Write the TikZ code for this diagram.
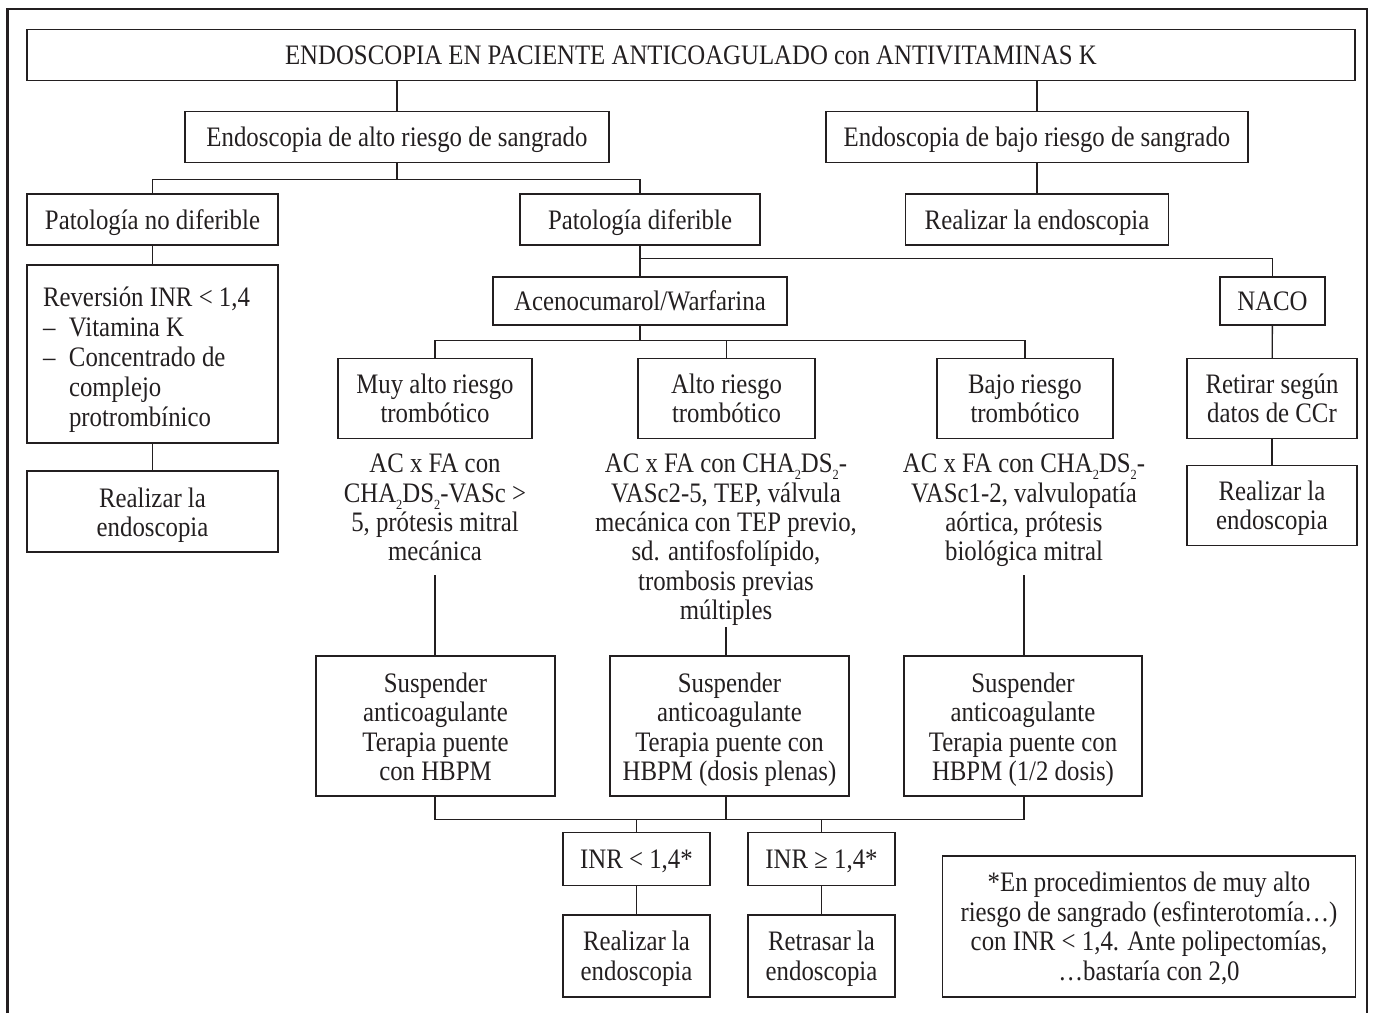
\documentclass[tikz,border=0pt]{standalone}
\usepackage{fontspec}
\setmainfont{Liberation Serif}[FakeStretch=0.88]
\newcommand{\sub}[1]{\raisebox{-0.55ex}[0pt][0pt]{\fontsize{14}{14}\selectfont #1}}
% stacked lines, lowered by #1 while keeping their measured extent
\newcommand{\ml}[3]{\raisebox{#1}[\height][\depth]{\begin{tabular}{@{}#2@{}}#3\end{tabular}}}
\definecolor{ink}{HTML}{231F20}
\begin{document}
\begin{tikzpicture}[x=1pt,y=-1pt,
  every node/.style={text=ink,font=\fontsize{28.2}{29.4}\selectfont},
  box/.style={draw=ink,line width=1.3pt,inner sep=0pt,align=center},
  one/.style={execute at begin node={\rule{0pt}{27pt}},
              execute at end node={\rule[-8pt]{0pt}{8pt}}},
  plain/.style={inner sep=0pt,align=center,anchor=north},
  link/.style={draw=ink,line width=1.3pt}]
\useasboundingbox (0,0) rectangle (1375,1013);
% outer frame, open at the bottom
\draw[ink,line width=2.8pt] (7.5,1013) -- (7.5,9) -- (1367,9) -- (1367,1013);

% boxes: centre, width, height
\node[box,one,minimum width=1328,minimum height=51] (top) at (691,55) {ENDOSCOPIA EN PACIENTE ANTICOAGULADO con ANTIVITAMINAS K};
\node[box,one,minimum width=424,minimum height=51] (alto) at (397,137) {Endoscopia de alto riesgo de sangrado};
\node[box,one,minimum width=422,minimum height=51] (bajo) at (1037,137) {Endoscopia de bajo riesgo de sangrado};
\node[box,one,minimum width=251,minimum height=51] (nodif) at (152.5,219.5) {Patología no diferible};
\node[box,one,minimum width=240,minimum height=51] (dif) at (640,219.5) {Patología diferible};
\node[box,one,minimum width=263,minimum height=51] (realb) at (1037,219.5) {Realizar la endoscopia};
\node[box,minimum width=251,minimum height=178,font=\fontsize{28.2}{29.8}\selectfont] (rev) at (152.5,354)
  {\kern-12pt\ml{-6.5pt}{l}{Reversión INR < 1,4\\
   \makebox[26pt][l]{–}Vitamina K\\
   \makebox[26pt][l]{–}Concentrado de\\
   \hspace*{26pt}complejo\\
   \hspace*{26pt}protrombínico}};
\node[box,minimum width=251,minimum height=81] (reall) at (152.5,511.5) {\ml{-4.5pt}{c}{Realizar la\\endoscopia}};
\node[box,one,minimum width=294,minimum height=48] (aceno) at (640,301) {Acenocumarol/Warfarina};
\node[box,one,minimum width=105,minimum height=48] (naco) at (1272.5,301) {NACO};
\node[box,minimum width=194,minimum height=80] (muy) at (435,398.5) {\ml{-3.6pt}{c}{Muy alto riesgo\\trombótico}};
\node[box,minimum width=177,minimum height=80] (altot) at (726.5,398.5) {\ml{-3.6pt}{c}{Alto riesgo\\trombótico}};
\node[box,minimum width=176,minimum height=80] (bajot) at (1025,398.5) {\ml{-3.6pt}{c}{Bajo riesgo\\trombótico}};
\node[box,minimum width=170,minimum height=80] (retirar) at (1272,398.5) {\ml{-3.6pt}{c}{Retirar según\\datos de CCr}};
\node[box,minimum width=170,minimum height=80] (realn) at (1272,505.5) {\ml{-3.6pt}{c}{Realizar la\\endoscopia}};

% indications under each risk level
\node[plain] (t1) at (435,452) {\ml{0pt}{c}{AC x FA con\\CHA\sub{2}DS\sub{2}-VASc >\\5, prótesis mitral\\mecánica}};
\node[plain] (t2) at (726,452) {\ml{0pt}{c}{AC x FA con CHA\sub{2}DS\sub{2}-\\VASc2-5, TEP, válvula\\mecánica con TEP previo,\\sd. antifosfolípido,\\trombosis previas\\múltiples}};
\node[plain] (t3) at (1024,452) {\ml{0pt}{c}{AC x FA con CHA\sub{2}DS\sub{2}-\\VASc1-2, valvulopatía\\aórtica, prótesis\\biológica mitral}};
\coordinate (t1b) at (435,575);
\coordinate (t2b) at (726,627);
\coordinate (t3b) at (1024,575);

\node[box,minimum width=239,minimum height=140] (s1) at (435.5,726) {\ml{-4.5pt}{c}{Suspender\\anticoagulante\\Terapia puente\\con HBPM}};
\node[box,minimum width=239,minimum height=140] (s2) at (729.5,726) {\ml{-4.5pt}{c}{Suspender\\anticoagulante\\Terapia puente con\\HBPM (dosis plenas)}};
\node[box,minimum width=238,minimum height=140] (s3) at (1023,726) {\ml{-4.5pt}{c}{Suspender\\anticoagulante\\Terapia puente con\\HBPM (1/2 dosis)}};

\node[box,one,minimum width=147,minimum height=53] (inr1) at (636.5,859) {INR < 1,4*};
\node[box,one,minimum width=147,minimum height=53] (inr2) at (821.5,859) {INR ≥ 1,4*};
\node[box,minimum width=147,minimum height=82] (reali) at (636.5,956) {\ml{-3.6pt}{c}{Realizar la\\endoscopia}};
\node[box,minimum width=147,minimum height=82] (retr) at (821.5,956) {\ml{-3.6pt}{c}{Retrasar la\\endoscopia}};
\node[box,minimum width=413,minimum height=141] (foot) at (1149,926.5)
  {\ml{-3.6pt}{c}{*En procedimientos de muy alto\\riesgo de sangrado (esfinterotomía…)\\con INR < 1,4. Ante polipectomías,\\…bastaría con 2,0}};

% connectors
\draw[link] (top.south -| alto) -- (alto.north);
\draw[link] (top.south -| bajo) -- (bajo.north);
\draw[link] (bajo) -- (realb);
\draw[link] (alto.south) -- ++(0,16) coordinate (j1);
\draw[link] (nodif.north) |- (j1) -| (dif.north);
\draw[link] (nodif) -- (rev);
\draw[link] (rev) -- (reall);
\draw[link] (dif.south) -- ++(0,13) coordinate (j2) -| (naco.north);
\draw[link] (j2) -- (aceno.north);
\draw[link] (aceno.south) -- ++(0,15) coordinate (j3);
\draw[link] (muy.north) |- (j3) -| (bajot.north);
\draw[link] (altot.north) -- (altot.north |- j3);
\draw[link] (naco) -- (retirar);
\draw[link] (retirar) -- (realn);
\draw[link] (t1b) -- (s1.north -| t1b);
\draw[link] (t2b) -- (s2.north -| t2b);
\draw[link] (t3b) -- (s3.north -| t3b);
\draw[link] (s1.south -| t1b) -- ++(0,23) coordinate (j4);
\draw[link] (j4) -- (j4 -| t3b) coordinate (j5) -- (s3.south -| t3b);
\draw[link] (s2.south -| t2b) -- (t2b |- j4);
\draw[link] (inr1.north) -- (inr1.north |- j4);
\draw[link] (inr2.north) -- (inr2.north |- j4);
\draw[link] (inr1) -- (reali);
\draw[link] (inr2) -- (retr);
\end{tikzpicture}
\end{document}
